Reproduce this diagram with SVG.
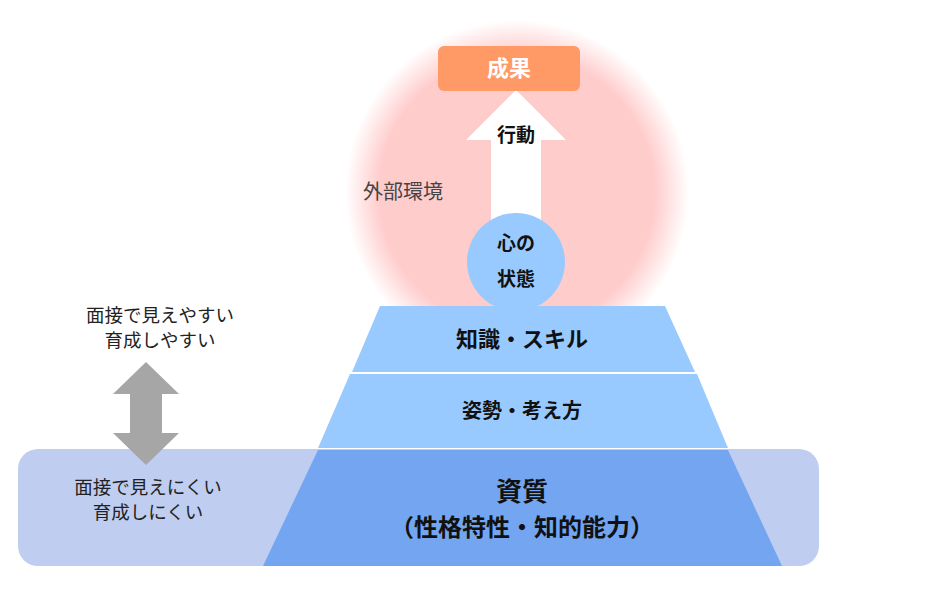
<svg xmlns="http://www.w3.org/2000/svg" width="927" height="601" viewBox="0 0 927 601">
<style>
text{font-family:"Noto Sans CJK JP","Noto Sans",sans-serif;text-anchor:middle}
.b{font-weight:bold;fill:#111}
.n{fill:#222;font-size:18.5px}
</style>
<defs>
<radialGradient id="g" cx="0.5" cy="0.5" r="0.5">
<stop offset="0.8" stop-color="#ffcccc"/>
<stop offset="1" stop-color="#ffcccc" stop-opacity="0"/>
</radialGradient>
</defs>
<rect width="927" height="601" fill="#fff"/>
<circle cx="517" cy="192" r="172" fill="url(#g)"/>
<text x="403" y="199" font-size="20" fill="#444">外部環境</text>
<g id="band"><rect x="18" y="449" width="801" height="117" rx="20" fill="#bfcdf0"/></g>
<g id="shishitsu"><polygon points="318,450 728,450 782,566 263,566" fill="#73a5f0"/>
<text class="b" x="522" y="501" font-size="26">資質</text>
<text class="b" x="522" y="536" font-size="24">（性格特性・知的能力）</text></g>
<g id="shisei"><polygon points="350,374 697,374 728,448 318,448" fill="#99caff"/>
<text class="b" x="522" y="418" font-size="20">姿勢・考え方</text></g>
<g id="chishiki"><polygon points="380,306 665,306 695,372 352,372" fill="#99caff"/>
<text class="b" x="522" y="347" font-size="22">知識・スキル</text></g>
<g id="connectors">
<polygon points="491,232 491,140 466,140 516,90 566,140 541,140 541,232" fill="#fff"/>
<polygon points="146,362 179,394 162,394 162,433 179,433 146,465 113,433 130,433 130,394 113,394" fill="#a6a6a6"/>
</g>
<text class="b" x="516" y="142" font-size="19">行動</text>
<g id="seika"><rect x="438" y="46" width="142" height="45" rx="6" fill="#ff9966"/>
<text x="509" y="76" font-size="22" font-weight="bold" fill="#fff">成果</text></g>
<g id="kokoro"><circle cx="516" cy="262" r="49" fill="#99caff"/>
<text class="b" x="516" y="250" font-size="19">心の</text>
<text class="b" x="516" y="286" font-size="19">状態</text></g>
<g id="easy"><text class="n" x="160" y="322">面接で見えやすい</text><text class="n" x="160" y="347">育成しやすい</text></g>
<g id="hard"><text class="n" x="148" y="494">面接で見えにくい</text><text class="n" x="148" y="519">育成しにくい</text></g>
</svg>
